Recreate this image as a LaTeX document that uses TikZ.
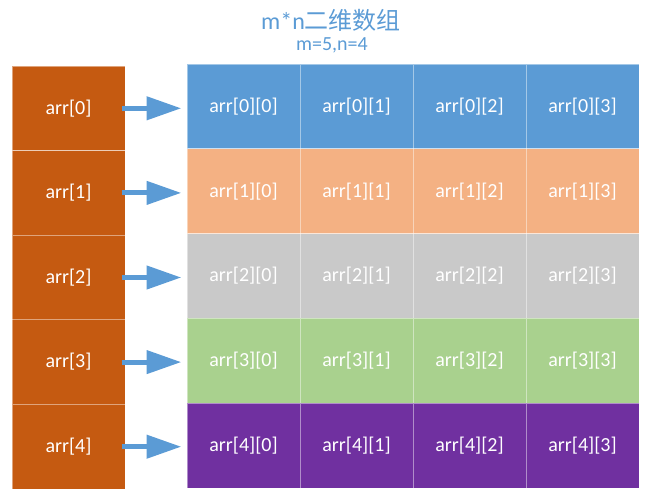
\documentclass[tikz,border=0pt]{standalone}
\usepackage{fontspec}
\setmainfont{Carlito}
\newfontfamily\cjk{Noto Sans CJK SC}
\usetikzlibrary{arrows.meta,positioning}
\definecolor{ptrcol}{HTML}{C55A11}
\definecolor{rowzero}{HTML}{5B9BD5}
\definecolor{rowone}{HTML}{F4B183}
\definecolor{rowtwo}{HTML}{C9C9C9}
\definecolor{rowthree}{HTML}{A9D18E}
\definecolor{rowfour}{HTML}{7030A0}
\definecolor{titlecol}{HTML}{5B9BD5}

\begin{document}
\begin{tikzpicture}[x=0.75pt,y=-0.75pt,
  cell/.style={rectangle,minimum width=84.75pt,minimum height=63.6pt,inner sep=0pt,
    text=white,font=\fontsize{15}{18}\selectfont,draw=white,draw opacity=0.45,line width=0.5pt},
  ptr/.style={cell,fill=ptrcol},
  ttl/.style={text=titlecol,font=\fontsize{15}{18}\selectfont,inner sep=0pt},
  conn/.style={-{Triangle[length=26pt,width=17pt]},rowzero,line width=3.8pt},
  ]
  \useasboundingbox (0,0) rectangle (651,500);

  % title
  \node at (331,20) [ttl,font=\fontsize{18}{20}\selectfont] (title) {m*n{\cjk 二维数组}};
  \node at (332,45) [ttl] (size) {m=5,n=4};

  % pointer column and rows
  \foreach \i/\c in {0/rowzero,1/rowone,2/rowtwo,3/rowthree,4/rowfour} {
    \node at (68.5,{108.3+84.6*\i}) [ptr] (arr\i) {arr[\i]};
    \foreach \j in {0,...,3}
      \node at ({243.5+113*\j},{106.4+84.8*\i}) [cell,fill=\c] (cell\i\j) {arr[\i][\j]};
    \draw[conn] ([xshift=-2.5pt]arr\i.east) -- ([xshift=-4pt]cell\i0.west |- arr\i.east);
  }
\end{tikzpicture}
\end{document}
